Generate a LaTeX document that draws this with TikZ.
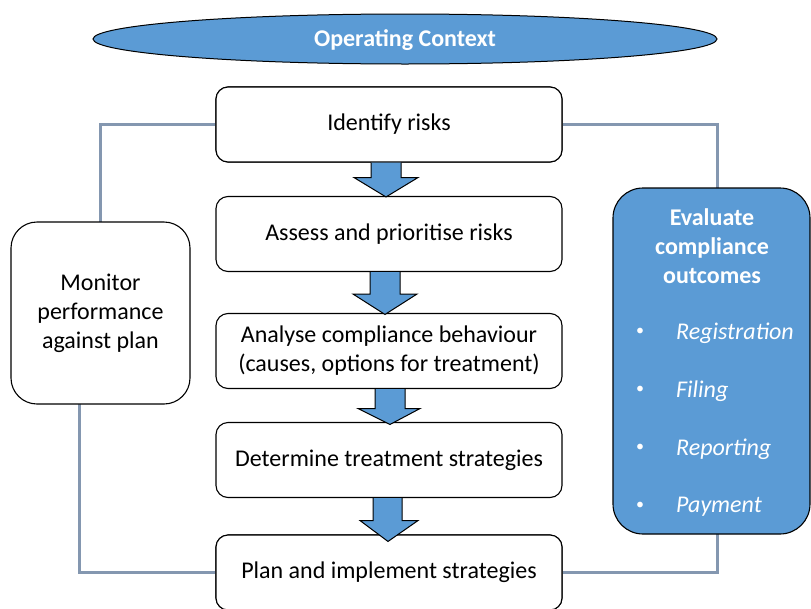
\documentclass[tikz,border=0pt]{standalone}
\usepackage{fontspec}
\setmainfont{Carlito}
\usetikzlibrary{shapes.geometric,calc}
\definecolor{fillblue}{HTML}{5B9BD5}
\definecolor{linkgray}{HTML}{8497B0}
\begin{document}
\begin{tikzpicture}[x=1pt,y=-1pt,
  stepbox/.style={draw=black, line width=1.1pt, rounded corners=12pt, fill=white,
    minimum width=346pt, minimum height=75pt, inner sep=0pt, align=center,
    font=\fontsize{24}{29}\selectfont},
  sidebox/.style={draw=black, line width=1.1pt, rounded corners=26pt,
    inner sep=0pt, align=center, font=\fontsize{24}{29}\selectfont},
  link/.style={draw=linkgray, line width=3pt},
  blockarrow/.style={fill=fillblue, draw=black, line width=1pt, line join=miter},
  whitetext/.style={text=white, inner sep=0pt, font=\fontsize{24}{29}\selectfont},
  bulletitem/.style={text=white, inner sep=0pt, anchor=west, font=\fontsize{24}{29}\selectfont\itshape},
  bulletdot/.style={text=white, inner sep=0pt, font=\fontsize{16}{18}\selectfont}
]
\useasboundingbox (0,0) rectangle (811,608);
\clip (0,0) rectangle (811,608);

% context ellipse
\node[ellipse, draw=black, line width=1pt, fill=fillblue, minimum width=624pt,
      minimum height=50pt, inner sep=0pt] (ctx) at (405,39) {};
\node[whitetext, font=\fontsize{24}{29}\selectfont\bfseries] (ctxlabel) at (405,40) {Operating Context};

% link end points on the side boxes
\coordinate (monN) at (100,222);
\coordinate (monS) at (79,404);
\coordinate (evN) at (717,188);
\coordinate (evS) at (717,534);

% central boxes
\node[stepbox] (ident) at (389,124.5) {Identify risks};
\node[stepbox] (assess) at (389,234) {Assess and prioritise risks};
\node[stepbox] (analyse) at (389,351) {Analyse compliance behaviour\\(causes, options for treatment)};
\node[stepbox] (determine) at (389,460) {Determine treatment strategies};
\node[stepbox] (plan) at (389,572.5) {Plan and implement strategies};

% links
\draw[link] (ident.west) -| (monN);
\draw[link] (plan.west) -| (monS);
\draw[link] (ident.east) -| (evN);
\draw[link] (plan.east) -| (evS);

% redraw boxes above links
\node[stepbox] at (ident) {Identify risks};
\node[stepbox] at (plan) {Plan and implement strategies};

% monitor box
\node[sidebox, fill=white, minimum width=179pt, minimum height=182pt] (mon) at (100.5,313)
  {Monitor\\performance\\against plan};

% evaluate box
\node[sidebox, fill=fillblue, rounded corners=30pt, minimum width=197pt, minimum height=346pt] (eval) at (711.5,361) {};
\node[whitetext, font=\fontsize{24}{29}\selectfont\bfseries, align=center] (evtitle) at (712,246)
  {Evaluate\\compliance\\outcomes};
\node[bulletdot] (b1) at (640,332) {•};
\node[bulletitem] (i1) at (676,333) {Registration};
\node[bulletdot] (b2) at (640,390) {•};
\node[bulletitem] (i2) at (676,391) {Filing};
\node[bulletdot] (b3) at (640,448) {•};
\node[bulletitem] (i3) at (676,449) {Reporting};
\node[bulletdot] (b4) at (640,506) {•};
\node[bulletitem] (i4) at (676,507) {Payment};

% block arrows
\draw[blockarrow] ($(ident.south)+(-18,0)$) -- ($(ident.south)+(-18,15)$) -- ($(ident.south)+(-35,15)$)
   -- ($(assess.north)+(-3,1)$) -- ($(ident.south)+(29,15)$) -- ($(ident.south)+(12,15)$)
   -- ($(ident.south)+(12,0)$);
\draw[blockarrow] ($(assess.south)+(-19,0)$) -- ($(assess.south)+(-19,22)$) -- ($(assess.south)+(-36,22)$)
   -- ($(analyse.north)+(-4,1.5)$) -- ($(assess.south)+(28,22)$) -- ($(assess.south)+(11,22)$)
   -- ($(assess.south)+(11,0)$);
\draw[blockarrow] ($(analyse.south)+(-14,0)$) -- ($(analyse.south)+(-14,19.5)$) -- ($(analyse.south)+(-31,19.5)$)
   -- ($(determine.north)+(1,2.5)$) -- ($(analyse.south)+(31,19.5)$) -- ($(analyse.south)+(16,19.5)$)
   -- ($(analyse.south)+(16,0)$);
\draw[blockarrow] ($(determine.south)+(-16,0)$) -- ($(determine.south)+(-16,22.5)$) -- ($(determine.south)+(-29,22.5)$)
   -- ($(plan.north)+(-1,7)$) -- ($(determine.south)+(29,22.5)$) -- ($(determine.south)+(13,22.5)$)
   -- ($(determine.south)+(13,0)$);
\end{tikzpicture}
\end{document}
